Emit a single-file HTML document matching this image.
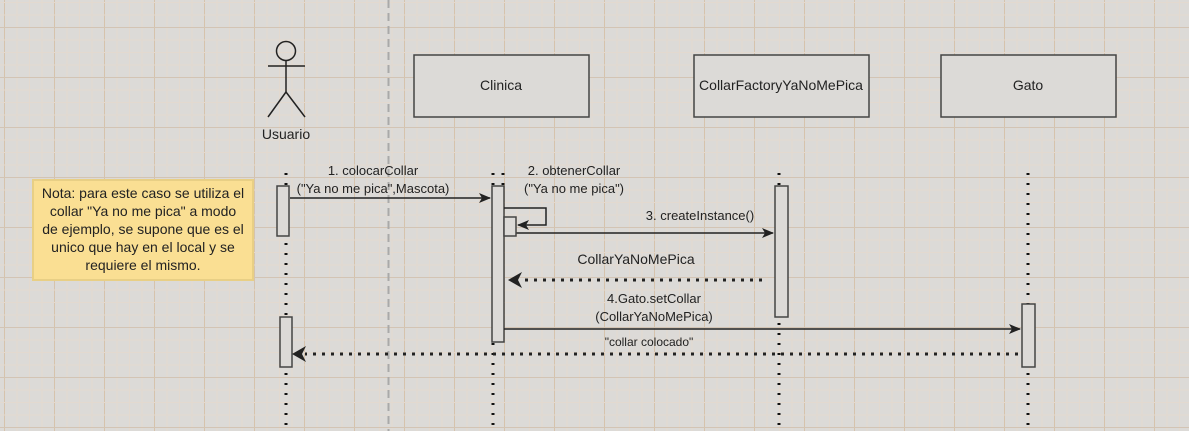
<!DOCTYPE html>
<html><head><meta charset="utf-8"><style>
html,body{margin:0;padding:0;width:1189px;height:431px;overflow:hidden}
body{background-color:#dcdad7;
background-image:
linear-gradient(to right,#d6c3ac 1px,transparent 1px),
linear-gradient(to right,#e3d9cf 1px,transparent 1px);
background-size:50px 50px,12.5px 12.5px;
background-position:4px 0,4px 0;}
svg{display:block;font-family:"Liberation Sans",Arial,sans-serif}
</style></head><body>
<svg width="1189" height="431" viewBox="0 0 1189 431" xmlns="http://www.w3.org/2000/svg">
<defs>
<marker id="a" markerWidth="12" markerHeight="10" refX="11" refY="5" orient="auto" markerUnits="userSpaceOnUse">
<path d="M0 0L12 5L0 10L3 5Z" fill="#222"/>
</marker>
</defs>
<path stroke="#e3d9cf" stroke-width="1" fill="none" d="M0 2.5H1189M0 15H1189M0 40H1189M0 52.5H1189M0 65H1189M0 90H1189M0 102.5H1189M0 115H1189M0 140H1189M0 152.5H1189M0 165H1189M0 190H1189M0 202.5H1189M0 215H1189M0 240H1189M0 252.5H1189M0 265H1189M0 290H1189M0 302.5H1189M0 315H1189M0 340H1189M0 352.5H1189M0 365H1189M0 390H1189M0 402.5H1189M0 415H1189"/>
<path stroke="#d3c4b4" stroke-width="1" fill="none" d="M0 27.5H1189M0 77.5H1189M0 127.5H1189M0 177.5H1189M0 227.5H1189M0 277.5H1189M0 327.5H1189M0 377.5H1189M0 427.5H1189"/>
<line x1="388.5" y1="0" x2="388.5" y2="431" stroke="#a9a9a9" stroke-width="2" stroke-dasharray="8 5"/>

<g stroke="#111" stroke-width="3" stroke-dasharray="2 8">
<line x1="286" y1="173" x2="286" y2="431"/>
<line x1="493" y1="173" x2="493" y2="431"/>
<line x1="503" y1="173" x2="503" y2="186"/>
<line x1="779" y1="173" x2="779" y2="431"/>
<line x1="1028" y1="173" x2="1028" y2="431"/>
</g>

<g stroke="#222" stroke-width="1.5" fill="none">
<circle cx="286" cy="51" r="9.5"/>
<line x1="268" y1="66" x2="305" y2="66"/>
<line x1="286" y1="61" x2="286" y2="92"/>
<line x1="286" y1="92" x2="268" y2="117"/>
<line x1="286" y1="92" x2="305" y2="117"/>
</g>
<text x="286" y="139" font-size="14" text-anchor="middle" fill="#222">Usuario</text>

<g fill="#dcdad7" stroke="#444" stroke-width="1.5">
<rect x="414" y="55" width="175" height="62"/>
<rect x="694" y="55" width="175" height="62"/>
<rect x="941" y="55" width="175" height="62"/>
</g>
<g font-size="14" text-anchor="middle" fill="#222">
<text x="501" y="90">Clinica</text>
<text x="781" y="90">CollarFactoryYaNoMePica</text>
<text x="1028" y="90">Gato</text>
</g>

<rect x="33" y="180" width="220" height="100" fill="#fadf93" stroke="#e8cf85" stroke-width="2"/>
<g font-size="14" text-anchor="middle" fill="#222">
<text x="143" y="198">Nota: para este caso se utiliza el</text>
<text x="143" y="216">collar "Ya no me pica" a modo</text>
<text x="143" y="234">de ejemplo, se supone que es el</text>
<text x="143" y="252">unico que hay en el local y se</text>
<text x="143" y="270">requiere el mismo.</text>
</g>

<g fill="#dcdad7" stroke="#444" stroke-width="1.5">
<rect x="277" y="186" width="12" height="50"/>
<rect x="280" y="317" width="12" height="50"/>
<rect x="492" y="186" width="12" height="156"/>
<rect x="775" y="186" width="13" height="131"/>
<rect x="1022" y="304" width="13" height="63"/>
</g>

<g stroke="#222" stroke-width="1.5" fill="none">
<line x1="290" y1="198" x2="490" y2="198" marker-end="url(#a)"/>
<polyline points="504,208 546,208 546,225 518,225" marker-end="url(#a)"/>
<line x1="516" y1="233" x2="773" y2="233" marker-end="url(#a)"/>
<line x1="504" y1="329" x2="1020" y2="329" marker-end="url(#a)"/>
</g>
<rect x="504" y="217" width="12" height="19" fill="#dcdad7" stroke="#444" stroke-width="1.5"/>
<g stroke="#222" stroke-width="3" stroke-dasharray="3 6" fill="none">
<line x1="762" y1="280" x2="520" y2="280"/>
<line x1="1018" y1="354" x2="305" y2="354"/>
</g>
<path d="M508 280L522 272L518 280L522 288Z" fill="#222"/>
<path d="M292 354L306 346L302 354L306 362Z" fill="#222"/>

<g font-size="13" text-anchor="middle" fill="#222">
<text x="373" y="175">1. colocarCollar</text>
<text x="373" y="193">("Ya no me pica",Mascota)</text>
<text x="574" y="175">2. obtenerCollar</text>
<text x="574" y="193">("Ya no me pica")</text>
<text x="700" y="220">3. createInstance()</text>
<text x="636" y="264" font-size="14">CollarYaNoMePica</text>
<text x="654" y="303">4.Gato.setCollar</text>
<text x="654" y="321">(CollarYaNoMePica)</text>
<text x="649" y="346" font-size="12">"collar colocado"</text>
</g>
</svg>
</body></html>
